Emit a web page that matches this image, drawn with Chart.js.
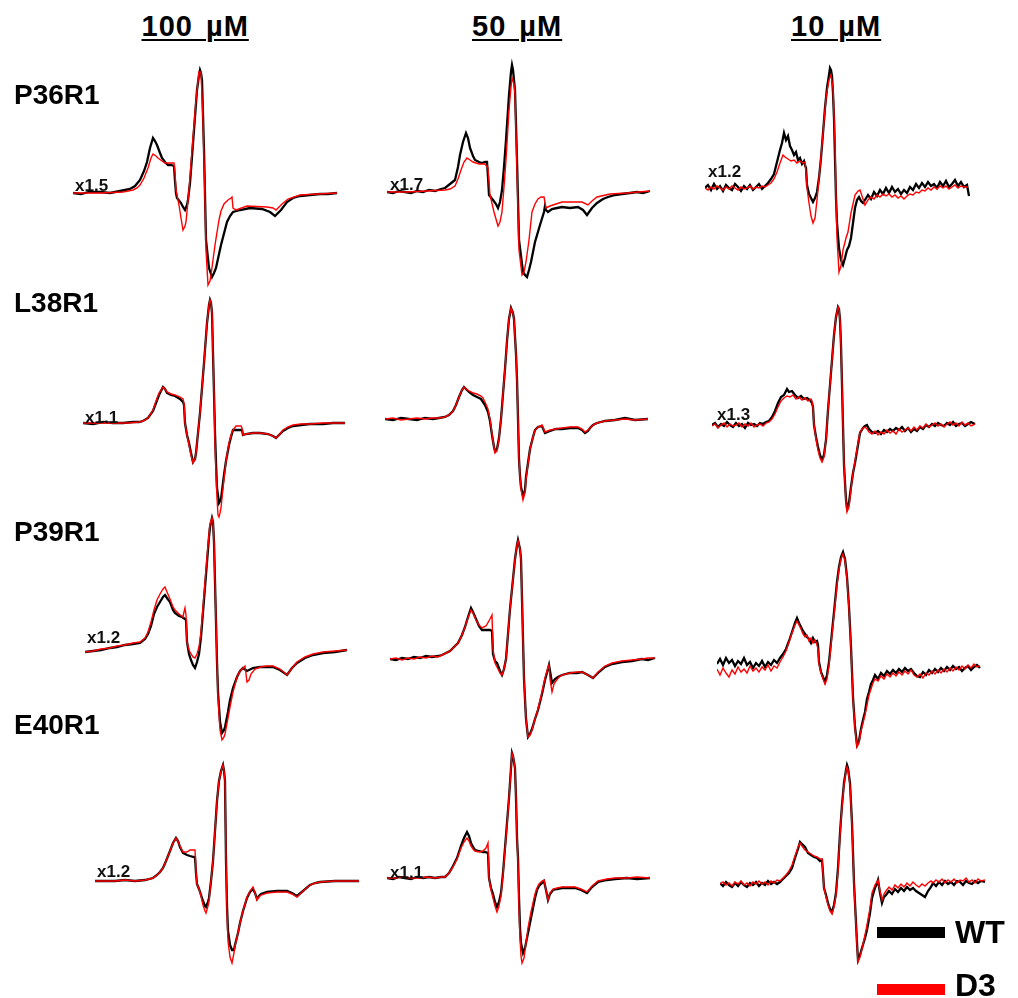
<!DOCTYPE html>
<html>
<head>
<meta charset="utf-8">
<script src="https://cdn.jsdelivr.net/npm/chart.js@4/dist/chart.umd.min.js"></script>
<style>
  body { margin: 0; background: #fff; }
  #fig { position: relative; width: 1018px; height: 998px; background: #fff; overflow: hidden;
         font-family: "Liberation Sans", Arial, sans-serif; }
  #fig canvas { position: absolute; }
  .txt { position: absolute; font-weight: bold; line-height: 1; white-space: nowrap; color: #000; }
  .head { font-size: 29px; letter-spacing: 1px; word-spacing: 4px; text-decoration: underline;
          text-decoration-thickness: 2px; text-underline-offset: 3px; }
  .row { font-size: 28px; }
  .mult { font-size: 17px; color: #111; }
  .leg { font-size: 32px; }
  .bar { position: absolute; width: 68px; height: 11px; }
</style>
</head>
<body>
<div id="fig"></div>
<script>
// EPR spectra, WT (black) vs D3 (red); x = field position, y = signal amplitude (baseline = 0)
const concentrations = ["100 µM", "50 µM", "10 µM"];
const mutants = ["P36R1", "L38R1", "P39R1", "E40R1"];

// ---- P36R1 ----
const p36_100_wt = [[0,0],[8,-1],[16,1],[27,1],[37,0],[47,2],[57,4],[62,7],[67,13],[71,22],[74,31],[77,45],[80,55],[82,52],[84,48],[87,40],[89,35],[92,31],[95,28],[98,28],[101,27],[102,12],[103,0],[104,-5],[108,-10],[110,-14],[112,-17],[114,-12],[115,-7],[117,10],[118,23],[121,63],[124,103],[126,118],[127,123],[128,120],[129,113],[131,43],[133,-47],[136,-75],[139,-84],[141,-80],[143,-75],[148,-52],[154,-29],[157,-23],[160,-19],[167,-17],[177,-15],[189,-16],[197,-19],[202,-23],[208,-17],[214,-9],[220,-5],[227,-3],[237,-2],[247,-1],[255,-1],[264,0]];
const p36_100_d3 = [[0,0],[10,0],[27,0],[50,1],[60,3],[64,5],[67,8],[71,15],[75,25],[78,35],[80,39],[83,37],[85,35],[89,32],[92,30],[97,30],[101,30],[102,20],[103,3],[106,-12],[108,-25],[110,-37],[112,-33],[113,-29],[116,3],[119,43],[123,93],[126,121],[128,121],[130,73],[132,-7],[133,-57],[135,-92],[137,-88],[138,-82],[142,-52],[146,-27],[148,-18],[151,-11],[155,-7],[158,-5],[159,-4],[160,-15],[163,-17],[174,-13],[194,-14],[200,-15],[203,-17],[209,-11],[215,-6],[227,-2],[245,-1],[264,0]];

const p36_50_wt = [[0,0],[6,-1],[12,1],[18,0],[24,-1],[30,1],[36,0],[42,2],[48,1],[54,3],[58,4],[63,8],[68,12],[71,25],[73,37],[76,50],[79,59],[81,54],[83,44],[86,36],[88,32],[92,30],[95,29],[98,30],[100,30],[101,15],[102,-3],[106,-8],[109,-12],[111,-16],[113,-10],[115,2],[117,25],[119,52],[122,97],[124,120],[125,127],[126,122],[128,102],[130,32],[132,-48],[136,-80],[138,-83],[140,-85],[142,-78],[144,-70],[148,-50],[153,-33],[157,-20],[158,-14],[159,-18],[161,-20],[165,-17],[170,-16],[175,-15],[183,-16],[191,-15],[196,-18],[200,-23],[205,-16],[210,-11],[216,-7],[221,-5],[228,-3],[235,-2],[243,-1],[250,0],[256,-1],[263,1]];
const p36_50_d3 = [[0,0],[20,0],[40,1],[58,2],[63,3],[68,6],[71,13],[74,22],[77,30],[80,34],[83,32],[86,30],[92,28],[98,28],[101,24],[102,10],[103,-3],[107,-20],[111,-34],[113,-30],[115,-20],[117,5],[119,32],[122,82],[124,105],[125,114],[127,108],[128,97],[130,22],[132,-58],[135,-83],[137,-80],[139,-70],[142,-48],[145,-20],[148,-12],[151,-7],[154,-5],[157,-5],[159,-16],[163,-14],[175,-10],[195,-10],[201,-13],[205,-9],[210,-5],[223,-2],[240,-1],[263,1]];

const p36_10_wt = [[0,0],[3,3],[6,-2],[9,4],[12,-1],[15,2],[18,-3],[21,3],[24,0],[27,-2],[30,4],[33,1],[36,-3],[39,2],[42,-1],[45,3],[48,-2],[51,1],[54,4],[57,-1],[60,2],[63,5],[66,9],[69,14],[71,22],[73,30],[75,38],[77,45],[79,55],[81,48],[83,52],[85,42],[87,38],[89,33],[91,36],[93,28],[95,30],[97,24],[99,27],[100,23],[101,20],[102,3],[104,-6],[106,-10],[108,-14],[110,-10],[112,-4],[114,10],[116,30],[118,55],[120,80],[122,100],[124,113],[125,120],[126,118],[127,112],[128,95],[129,70],[130,30],[131,-10],[132,-35],[134,-60],[136,-72],[138,-77],[140,-70],[142,-62],[144,-58],[146,-50],[148,-35],[150,-20],[152,-12],[154,-9],[156,-13],[158,-15],[160,-12],[163,-7],[166,-11],[169,-4],[172,-8],[175,-2],[178,-6],[181,0],[184,-5],[187,1],[190,-4],[193,-1],[196,-6],[199,-2],[202,-5],[205,1],[208,-2],[211,4],[214,0],[217,5],[220,1],[223,6],[226,2],[229,4],[232,0],[235,6],[238,2],[241,7],[244,1],[247,4],[250,8],[253,2],[256,6],[259,1],[262,3],[264,-8]];
const p36_10_d3 = [[0,0],[3,-2],[6,1],[9,-1],[12,2],[15,0],[18,-2],[21,1],[24,-1],[27,2],[30,0],[33,-2],[36,1],[39,-1],[42,0],[45,2],[48,-1],[51,1],[54,0],[57,2],[60,1],[63,3],[66,5],[69,9],[72,16],[75,25],[78,33],[80,31],[83,29],[86,27],[89,28],[92,25],[95,27],[98,25],[100,26],[101,15],[102,0],[104,-15],[106,-28],[108,-35],[110,-30],[112,-12],[115,20],[118,55],[121,90],[124,108],[126,113],[128,100],[130,45],[131,-10],[132,-50],[134,-84],[136,-78],[138,-62],[141,-50],[143,-44],[146,-25],[150,-7],[153,-3],[155,-2],[157,-8],[160,-17],[163,-12],[166,-9],[169,-11],[172,-7],[175,-9],[178,-6],[181,-8],[184,-6],[187,-9],[190,-7],[193,-10],[196,-8],[199,-11],[202,-8],[205,-6],[208,-7],[211,-4],[214,-5],[217,-2],[220,-3],[223,0],[226,-2],[229,1],[232,-1],[235,2],[238,0],[241,2],[244,-1],[247,1],[250,3],[253,0],[256,2],[259,1],[263,1]];

// ---- L38R1 ----
const l38_100_wt = [[0,0],[10,-1],[20,1],[30,0],[40,0],[50,1],[56,1],[60,2],[65,5],[70,12],[73,20],[76,28],[80,36],[82,34],[84,30],[88,28],[92,27],[97,24],[100,21],[101,18],[102,0],[104,-12],[106,-20],[108,-30],[110,-39],[112,-36],[113,-30],[115,-10],[117,10],[119,35],[121,60],[124,100],[126,118],[127,123],[128,120],[129,110],[130,70],[131,30],[132,-10],[133,-40],[134,-65],[136,-80],[137,-78],[138,-76],[141,-52],[143,-38],[146,-22],[148,-14],[150,-7],[155,-7],[159,-7],[160,-12],[163,-11],[170,-10],[177,-10],[185,-11],[190,-13],[193,-15],[197,-11],[200,-8],[205,-5],[210,-3],[218,-2],[227,-1],[240,-1],[250,0],[262,0]];
const l38_100_d3 = [[0,0],[15,0],[30,0],[45,0],[56,1],[60,2],[65,5],[70,13],[73,22],[76,30],[80,36],[82,34],[84,31],[88,29],[92,28],[97,26],[100,24],[101,20],[102,0],[104,-12],[106,-22],[108,-32],[110,-40],[112,-36],[113,-30],[115,-10],[117,10],[119,35],[121,60],[124,100],[126,118],[127,123],[128,120],[129,110],[130,70],[131,30],[132,-20],[133,-50],[134,-75],[135,-92],[136,-94],[137,-90],[138,-85],[140,-65],[143,-38],[146,-20],[148,-12],[150,-7],[153,-3],[156,-3],[158,-3],[159,-5],[160,-12],[163,-11],[170,-10],[177,-10],[185,-11],[190,-13],[193,-15],[197,-11],[200,-7],[205,-4],[210,-2],[218,-1],[227,-1],[240,0],[262,0]];

const l38_50_wt = [[0,0],[8,-1],[16,1],[24,0],[32,-1],[40,1],[48,0],[54,1],[60,2],[64,4],[68,8],[71,14],[74,22],[77,29],[79,32],[81,30],[84,27],[88,24],[92,22],[96,20],[98,17],[100,14],[103,7],[105,-2],[107,-16],[109,-28],[110,-32],[112,-30],[114,-19],[116,0],[118,25],[120,50],[122,78],[124,100],[126,111],[128,106],[129,100],[131,65],[132,40],[133,0],[134,-40],[135,-57],[136,-68],[138,-77],[140,-71],[141,-58],[143,-44],[145,-30],[148,-18],[150,-11],[153,-8],[157,-7],[160,-14],[165,-12],[171,-10],[177,-10],[185,-9],[193,-9],[197,-11],[200,-14],[203,-12],[205,-9],[208,-6],[212,-4],[220,-2],[230,-1],[240,1],[250,-1],[263,0]];
const l38_50_d3 = [[0,0],[8,1],[16,-1],[24,0],[32,1],[40,0],[48,1],[54,1],[60,2],[64,4],[68,8],[71,14],[74,22],[77,29],[79,32],[81,30],[84,28],[88,26],[92,25],[96,23],[98,21],[100,17],[103,10],[105,0],[107,-15],[109,-28],[110,-34],[112,-32],[114,-20],[116,0],[118,25],[120,50],[122,78],[124,100],[126,111],[128,106],[129,100],[131,65],[132,40],[133,0],[134,-40],[135,-58],[136,-70],[138,-81],[140,-74],[141,-60],[143,-45],[145,-30],[148,-18],[150,-11],[153,-8],[157,-6],[160,-13],[165,-11],[171,-10],[177,-9],[185,-8],[193,-8],[197,-10],[200,-13],[203,-11],[205,-9],[208,-6],[212,-4],[220,-2],[230,-1],[240,0],[250,-1],[263,0]];

const l38_10_wt = [[0,0],[3,2],[6,-2],[9,1],[12,-1],[15,3],[18,0],[21,-2],[24,2],[27,-1],[30,1],[33,-3],[36,2],[39,0],[42,1],[45,-1],[48,2],[51,1],[54,3],[57,4],[60,8],[63,14],[66,22],[69,28],[72,30],[75,36],[77,33],[80,34],[83,30],[86,27],[89,29],[92,26],[95,27],[98,25],[100,22],[101,18],[102,0],[104,-12],[106,-22],[108,-30],[110,-35],[112,-30],[114,-15],[116,15],[118,40],[120,65],[122,90],[124,108],[126,118],[127,116],[128,105],[129,80],[130,40],[131,0],[132,-40],[134,-75],[135,-83],[137,-78],[139,-62],[141,-48],[143,-38],[146,-20],[148,-8],[151,-3],[153,-1],[155,0],[157,-4],[160,-7],[163,-8],[166,-6],[169,-9],[172,-5],[175,-7],[178,-4],[181,-6],[184,-3],[187,-5],[190,-2],[193,-6],[196,-3],[199,-7],[202,-4],[205,-6],[208,-2],[211,-4],[214,0],[217,-2],[220,1],[223,-1],[226,2],[229,0],[232,-1],[235,2],[238,0],[241,3],[244,-1],[247,1],[250,2],[253,-1],[256,1],[259,3],[263,1]];
const l38_10_d3 = [[0,-1],[3,1],[6,-3],[9,0],[12,2],[15,-2],[18,1],[21,-1],[24,0],[27,2],[30,-2],[33,1],[36,-1],[39,2],[42,-2],[45,0],[48,1],[51,-1],[54,2],[57,3],[60,6],[63,11],[66,18],[69,24],[72,27],[75,29],[78,28],[81,30],[84,26],[87,28],[90,25],[93,27],[96,24],[99,26],[100,24],[101,18],[102,0],[104,-14],[106,-25],[108,-33],[110,-37],[112,-32],[114,-15],[116,15],[118,40],[120,65],[122,90],[124,108],[126,118],[127,116],[128,105],[129,80],[130,40],[131,0],[132,-40],[134,-78],[135,-87],[137,-82],[139,-64],[141,-48],[143,-36],[146,-18],[148,-7],[151,-3],[153,-2],[155,-4],[157,-7],[160,-9],[163,-6],[166,-10],[169,-7],[172,-9],[175,-5],[178,-8],[181,-6],[184,-9],[187,-4],[190,-7],[193,-5],[196,-3],[199,-6],[202,-2],[205,-5],[208,-1],[211,-3],[214,1],[217,-2],[220,0],[223,2],[226,-1],[229,1],[232,-2],[235,1],[238,3],[241,0],[244,2],[247,-1],[250,3],[253,0],[256,2],[259,-1],[263,1]];

// ---- P39R1 ----
const p39_100_wt = [[0,0],[8,1],[16,2],[25,4],[32,5],[40,7],[48,8],[55,9],[60,13],[63,18],[66,26],[69,38],[72,45],[75,50],[78,55],[80,57],[82,54],[85,50],[88,42],[90,39],[94,36],[97,35],[100,33],[101,32],[102,10],[104,-2],[106,-8],[108,-13],[110,-16],[112,-10],[114,-2],[116,15],[118,40],[120,65],[122,90],[124,115],[125,125],[127,134],[128,130],[129,110],[130,70],[131,30],[132,-10],[133,-40],[135,-70],[137,-81],[139,-78],[140,-75],[143,-60],[145,-48],[148,-36],[152,-25],[155,-19],[158,-16],[162,-19],[168,-16],[175,-15],[182,-15],[188,-15],[195,-18],[202,-23],[207,-16],[212,-11],[220,-6],[228,-3],[238,-1],[250,0],[262,2]];
const p39_100_d3 = [[0,0],[8,1],[16,3],[25,4],[32,6],[40,7],[48,9],[55,10],[60,14],[63,20],[66,30],[69,42],[72,52],[75,58],[78,63],[80,65],[82,60],[85,53],[88,45],[90,42],[94,38],[98,35],[99,40],[100,44],[101,37],[102,10],[104,2],[106,-2],[108,-5],[110,-6],[112,-2],[114,5],[116,20],[118,45],[120,70],[122,95],[124,118],[125,128],[127,134],[128,130],[129,110],[130,70],[131,30],[132,-10],[133,-45],[135,-78],[137,-88],[139,-85],[140,-82],[143,-66],[145,-55],[148,-40],[152,-25],[155,-19],[158,-16],[160,-14],[162,-30],[164,-28],[166,-22],[170,-17],[175,-15],[182,-14],[188,-14],[195,-17],[202,-23],[207,-16],[212,-10],[220,-5],[228,-2],[238,0],[250,1],[262,2]];

const p39_50_wt = [[0,0],[6,-1],[12,1],[18,0],[24,2],[30,1],[36,3],[42,2],[48,3],[52,4],[56,6],[60,8],[64,12],[68,16],[72,24],[75,32],[78,42],[81,51],[83,47],[86,40],[89,33],[92,29],[96,29],[100,29],[102,28],[103,5],[105,-2],[107,-4],[110,-12],[112,-16],[114,-10],[116,0],[118,25],[120,50],[123,80],[125,100],[127,114],[128,119],[130,110],[131,100],[132,60],[133,20],[134,-20],[136,-60],[138,-78],[140,-75],[142,-70],[145,-60],[148,-51],[152,-35],[155,-21],[158,-10],[159,-6],[160,-12],[162,-24],[165,-20],[168,-18],[172,-16],[180,-14],[187,-14],[192,-13],[198,-16],[203,-19],[208,-14],[215,-8],[222,-5],[232,-3],[242,-2],[252,0],[258,-1],[265,1]];
const p39_50_d3 = [[0,0],[6,1],[12,-1],[18,1],[24,0],[30,2],[36,1],[42,3],[48,2],[52,4],[56,6],[60,8],[64,12],[68,16],[72,24],[75,32],[78,41],[81,49],[83,46],[86,39],[89,34],[92,31],[96,33],[100,40],[102,44],[103,10],[105,-4],[107,-8],[110,-14],[112,-16],[114,-10],[116,0],[118,25],[120,50],[123,80],[125,100],[127,114],[128,118],[130,110],[131,100],[132,60],[133,20],[134,-20],[136,-60],[138,-78],[140,-76],[142,-71],[145,-60],[148,-50],[152,-33],[155,-19],[158,-8],[159,-6],[160,-20],[162,-33],[164,-25],[166,-22],[169,-18],[172,-16],[180,-14],[187,-13],[192,-13],[198,-16],[203,-19],[208,-13],[215,-7],[222,-4],[232,-2],[242,-1],[252,0],[258,1],[265,1]];

const p39_10_wt = [[0,3],[3,8],[6,2],[9,9],[12,4],[15,7],[18,1],[21,6],[24,3],[27,9],[30,2],[33,5],[36,-1],[39,4],[42,1],[45,6],[48,0],[51,5],[54,2],[57,7],[60,4],[63,9],[66,13],[69,18],[72,26],[75,35],[78,44],[80,49],[82,44],[84,40],[86,36],[88,33],[90,30],[92,28],[94,24],[96,29],[98,25],[100,26],[101,22],[102,5],[104,-5],[106,-10],[108,-15],[110,-8],[112,5],[114,25],[116,45],[118,65],[120,85],[122,100],[124,110],[126,115],[128,108],[130,90],[132,60],[134,20],[136,-30],[138,-60],[140,-78],[142,-74],[144,-62],[146,-53],[148,-45],[150,-32],[152,-25],[154,-17],[156,-13],[158,-8],[161,-12],[164,-6],[167,-9],[170,-4],[173,-7],[176,-3],[179,-6],[182,-2],[185,-5],[188,-1],[191,-4],[194,-2],[197,-6],[200,-9],[203,-10],[206,-5],[209,-8],[212,-3],[215,-6],[218,-2],[221,-5],[224,-1],[227,-4],[230,0],[233,-3],[236,1],[239,-2],[242,0],[245,-4],[248,-1],[251,1],[254,-3],[257,0],[260,2],[263,-1]];
const p39_10_d3 = [[0,-2],[3,-8],[6,-1],[9,-6],[12,-10],[15,-3],[18,-7],[21,0],[24,-5],[27,-2],[30,-6],[33,1],[36,-4],[39,-1],[42,-5],[45,0],[48,-3],[51,2],[54,-4],[57,1],[60,-1],[63,5],[66,10],[69,16],[72,25],[75,34],[78,42],[80,46],[82,42],[84,38],[86,33],[88,30],[90,32],[92,26],[94,29],[96,24],[98,27],[100,22],[101,18],[102,3],[104,-6],[106,-12],[108,-17],[110,-12],[112,2],[114,22],[116,42],[118,62],[120,82],[122,98],[124,108],[126,113],[128,106],[130,88],[132,58],[134,18],[136,-32],[138,-62],[140,-80],[142,-76],[144,-64],[146,-56],[148,-48],[150,-38],[152,-28],[154,-22],[156,-16],[158,-12],[161,-14],[164,-9],[167,-12],[170,-7],[173,-10],[176,-6],[179,-9],[182,-5],[185,-8],[188,-4],[191,-7],[194,-3],[197,-8],[200,-10],[203,-7],[206,-11],[209,-6],[212,-8],[215,-4],[218,-7],[221,-3],[224,-6],[227,-2],[230,-5],[233,-1],[236,-4],[239,0],[242,-3],[245,1],[248,-2],[251,2],[254,-1],[257,3],[260,0],[263,1]];

// ---- E40R1 ----
const e40_100_wt = [[0,0],[10,0],[20,0],[30,1],[40,0],[50,1],[58,3],[62,6],[65,9],[68,13],[71,20],[75,30],[78,38],[81,43],[83,40],[85,34],[88,28],[92,26],[95,25],[99,24],[100,24],[101,8],[102,-3],[104,-8],[106,-14],[108,-20],[110,-25],[111,-26],[113,-21],[114,-17],[116,0],[118,20],[120,50],[122,80],[124,100],[126,110],[128,116],[129,110],[130,100],[131,20],[132,-25],[133,-50],[135,-64],[137,-69],[139,-69],[140,-64],[143,-52],[145,-42],[148,-30],[152,-17],[155,-11],[158,-8],[160,-12],[162,-18],[164,-15],[166,-13],[172,-11],[182,-10],[192,-10],[197,-12],[202,-15],[208,-10],[215,-4],[220,-2],[225,-1],[240,0],[264,0]];
const e40_100_d3 = [[0,0],[10,0],[20,0],[30,1],[40,0],[50,1],[58,3],[62,6],[65,9],[68,13],[71,20],[75,30],[78,38],[81,43],[83,40],[85,35],[88,29],[92,29],[95,31],[99,31],[100,31],[101,10],[102,-3],[104,-8],[106,-15],[108,-24],[110,-30],[111,-32],[113,-25],[114,-20],[116,0],[118,20],[120,50],[122,80],[124,100],[126,110],[128,116],[129,110],[130,100],[131,20],[132,-30],[133,-60],[135,-76],[137,-82],[139,-72],[140,-65],[143,-52],[145,-42],[148,-30],[152,-16],[155,-10],[158,-6],[160,-12],[162,-19],[164,-16],[166,-14],[172,-12],[182,-11],[192,-11],[197,-13],[202,-16],[208,-10],[215,-4],[220,-2],[225,-1],[240,0],[264,0]];

const e40_50_wt = [[0,0],[6,-1],[12,1],[18,0],[24,-1],[30,1],[36,0],[42,1],[48,0],[54,1],[58,1],[62,5],[66,12],[70,20],[74,32],[77,40],[80,46],[82,42],[84,35],[86,31],[88,28],[92,27],[96,26],[98,26],[101,25],[102,0],[104,-10],[106,-16],[108,-24],[110,-29],[112,-24],[114,-15],[116,5],[118,30],[120,55],[122,80],[124,110],[125,125],[126,122],[128,110],[129,80],[130,40],[131,20],[132,-20],[133,-50],[134,-65],[136,-75],[138,-70],[141,-55],[144,-40],[148,-20],[150,-12],[152,-8],[155,-5],[157,-3],[159,-12],[161,-22],[163,-16],[166,-12],[170,-11],[175,-10],[182,-10],[188,-10],[194,-12],[200,-15],[205,-9],[211,-4],[220,-2],[228,-1],[240,0],[250,-1],[263,0]];
const e40_50_d3 = [[0,0],[8,0],[16,1],[24,0],[32,0],[40,1],[48,0],[54,1],[58,1],[62,5],[66,11],[70,19],[74,30],[77,36],[80,40],[82,37],[84,32],[86,29],[88,27],[92,26],[96,27],[99,30],[101,35],[102,0],[104,-12],[106,-20],[108,-28],[110,-34],[112,-28],[114,-18],[116,3],[118,28],[120,53],[122,80],[124,110],[125,125],[126,122],[128,110],[129,80],[130,40],[131,15],[132,-30],[133,-60],[134,-78],[135,-85],[137,-80],[139,-65],[141,-50],[144,-34],[148,-16],[150,-10],[152,-6],[155,-3],[157,-2],[159,-12],[161,-22],[163,-15],[166,-11],[170,-10],[175,-9],[182,-9],[188,-9],[194,-11],[200,-14],[205,-8],[211,-3],[220,-1],[228,0],[240,0],[250,1],[263,0]];

const e40_10_wt = [[0,0],[3,-3],[6,1],[9,-2],[12,-4],[15,0],[18,-3],[21,1],[24,-2],[27,-4],[30,0],[33,-2],[36,1],[39,-3],[42,0],[45,-2],[48,2],[51,-1],[54,1],[57,-1],[60,1],[63,4],[66,7],[69,10],[72,15],[75,25],[78,34],[80,41],[82,39],[85,36],[88,30],[91,28],[94,26],[97,25],[100,22],[102,23],[103,10],[104,-5],[106,-12],[108,-20],[110,-26],[112,-29],[114,-22],[116,-10],[118,15],[120,50],[122,78],[124,100],[126,113],[127,118],[128,115],[130,100],[132,60],[133,30],[134,0],[135,-20],[136,-40],[137,-60],[138,-77],[140,-72],[142,-65],[145,-55],[147,-47],[150,-30],[152,-15],[155,-5],[157,0],[158,3],[160,-10],[162,-20],[164,-14],[166,-12],[169,-8],[172,-11],[175,-6],[178,-9],[181,-5],[184,-8],[187,-4],[190,-7],[193,-5],[196,-8],[199,-10],[202,-12],[205,-14],[208,-8],[211,-4],[213,0],[216,-3],[219,1],[222,-2],[225,2],[228,-1],[231,1],[234,-2],[237,2],[240,1],[243,-2],[246,2],[249,0],[252,-1],[255,2],[258,0],[261,2],[265,1]];
const e40_10_d3 = [[0,-1],[3,1],[6,-2],[9,0],[12,-3],[15,1],[18,-1],[21,2],[24,-2],[27,0],[30,-3],[33,1],[36,-1],[39,2],[42,-1],[45,1],[48,-2],[51,2],[54,0],[57,3],[60,2],[63,5],[66,8],[69,12],[72,18],[75,27],[78,36],[80,40],[82,37],[85,33],[88,31],[91,29],[94,27],[97,26],[100,24],[102,24],[103,10],[104,-5],[106,-14],[108,-22],[110,-28],[112,-31],[114,-24],[116,-12],[118,12],[120,48],[122,76],[124,98],[126,112],[127,116],[128,113],[130,98],[132,58],[133,28],[134,-2],[135,-22],[136,-42],[137,-62],[138,-79],[140,-74],[142,-66],[145,-52],[147,-42],[150,-25],[152,-10],[155,-2],[157,1],[158,3],[160,-8],[162,-17],[164,-11],[166,-8],[169,-4],[172,-7],[175,-2],[178,-5],[181,-1],[184,-4],[187,0],[190,-3],[193,1],[196,-2],[199,-4],[202,-1],[205,-3],[208,0],[211,2],[213,0],[216,3],[219,1],[222,4],[225,0],[228,3],[231,1],[234,4],[237,0],[240,3],[243,2],[246,5],[249,1],[252,3],[255,0],[258,4],[261,2],[265,3]];

// traces per row (mutant) and column (concentration): [WT, D3]
const traces = [
  [[p36_100_wt, p36_100_d3], [p36_50_wt, p36_50_d3], [p36_10_wt, p36_10_d3]],
  [[l38_100_wt, l38_100_d3], [l38_50_wt, l38_50_d3], [l38_10_wt, l38_10_d3]],
  [[p39_100_wt, p39_100_d3], [p39_50_wt, p39_50_d3], [p39_10_wt, p39_10_d3]],
  [[e40_100_wt, e40_100_d3], [e40_50_wt, e40_50_d3], [e40_10_wt, e40_10_d3]]
];
// scaling factors written next to some spectra (row, col, text)
const multipliers = [[0,0,"x1.5"],[0,1,"x1.7"],[0,2,"x1.2"],[1,0,"x1.1"],[1,2,"x1.3"],[2,0,"x1.2"],[3,0,"x1.2"],[3,1,"x1.1"]];

// ---- layout ----
const panelLeft = [[73, 387, 705], [83, 385, 712], [85, 390, 717], [95, 387, 720]];
const panelBase = [[193, 192, 188], [423, 419, 425], [652, 659, 667], [881, 878, 883]];
const multPos = [[75,191],[390,190],[708,177],[85,423],[717,420],[87,643],[97,877],[390,878]];
const headCenter = [195, 517, 836];
const rowBaseline = [105, 313, 542, 735];
const PW = 270, YMIN = -100, YMAX = 140;

const fig = document.getElementById("fig");

function addText(cls, text, left, baseline, size, center) {
  const d = document.createElement("div");
  d.className = "txt " + cls;
  d.textContent = text;
  d.style.top = (baseline - 0.85 * size) + "px";
  fig.appendChild(d);
  if (center) d.style.left = (left - d.offsetWidth / 2) + "px";
  else d.style.left = left + "px";
  return d;
}

function drawPanel(r, c) {
  const [wt, d3] = traces[r][c];
  const cv = document.createElement("canvas");
  cv.width = PW;
  cv.height = YMAX - YMIN;
  cv.style.left = panelLeft[r][c] + "px";
  cv.style.top = (panelBase[r][c] - YMAX) + "px";
  fig.appendChild(cv);
  new Chart(cv.getContext("2d"), {
    type: "line",
    data: {
      datasets: [
        { label: "D3", data: d3.map(p => ({ x: p[0], y: p[1] })), borderColor: "#ff0000",
          borderWidth: 1.4, pointRadius: 0, tension: 0, clip: false, order: 0 },
        { label: "WT", data: wt.map(p => ({ x: p[0], y: p[1] })), borderColor: "#000000",
          borderWidth: 2.3, pointRadius: 0, tension: 0, clip: false, order: 1 }
      ]
    },
    options: {
      responsive: false,
      animation: false,
      events: [],
      layout: { padding: 0 },
      plugins: { legend: { display: false }, tooltip: { enabled: false } },
      scales: {
        x: { type: "linear", display: false, min: 0, max: PW },
        y: { type: "linear", display: false, min: YMIN, max: YMAX }
      }
    }
  });
}

for (let r = 0; r < mutants.length; r++) {
  for (let c = 0; c < concentrations.length; c++) drawPanel(r, c);
}

concentrations.forEach((t, i) => addText("head", t, headCenter[i], 37, 29, true));
mutants.forEach((t, i) => addText("row", t, 14, rowBaseline[i], 28, false));
multipliers.forEach((m, i) => addText("mult", m[2], multPos[i][0], multPos[i][1], 17, false));

// legend
const legItems = [["WT", "#000000", 932, 943], ["D3", "#ff0000", 989, 996]];
legItems.forEach(([name, col, barY, textBase]) => {
  const b = document.createElement("div");
  b.className = "bar";
  b.style.background = col;
  b.style.left = "877px";
  b.style.top = (barY - 5) + "px";
  fig.appendChild(b);
  addText("leg", name, 955, textBase, 32, false);
});
</script>
</body>
</html>
